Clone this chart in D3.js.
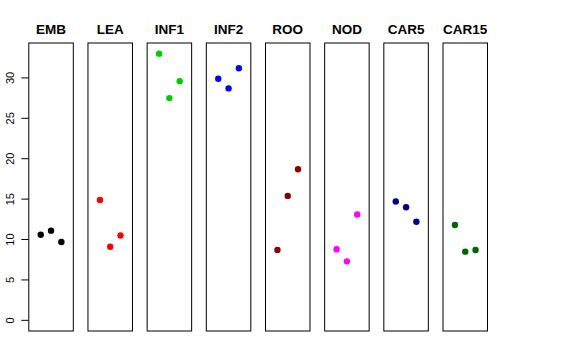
<!DOCTYPE html>
<html>
<head>
<meta charset="utf-8">
<script src="https://cdn.jsdelivr.net/npm/d3@7"></script>
<style>
  body { margin: 0; background: #fff; }
  text { font-family: "Liberation Sans", Arial, sans-serif; }
</style>
</head>
<body>
<svg id="chart"></svg>
<script>
// 组织类别
const tissues = ["EMB", "LEA", "INF1", "INF2", "ROO", "NOD", "CAR5", "CAR15"];
// 每个类别的颜色
const colors = ["#000000", "#ff0000", "#00cd00", "#0000ff", "#8b0000", "#ff00ff", "#00008b", "#006400"];
// 重复样本的位置
const reps = [1, 2, 3];
// 每个类别的三个数值
const values = [
  [10.6, 11.1, 9.7],
  [14.9, 9.1, 10.5],
  [33.0, 27.5, 29.6],
  [29.9, 28.7, 31.2],
  [8.7, 15.4, 18.7],
  [8.8, 7.3, 13.1],
  [14.7, 14.0, 12.2],
  [11.8, 8.5, 8.7]
];
// y 轴刻度
const yTicks = [0, 5, 10, 15, 20, 25, 30];

const svg = d3.select("#chart")
  .attr("width", 576)
  .attr("height", 360);

// 面板位置
const panelX = d3.scaleLinear().domain([0, 7]).range([28.8, 443]);
const panelW = 44.5;
const plotTop = 43, plotBottom = 331;

// y 比例尺（R 默认扩展 4%）
const y = d3.scaleLinear().domain([-1.32, 34.32]).range([plotBottom, plotTop]);

tissues.forEach((name, i) => {
  const left = panelX(i);
  const x = d3.scaleLinear().domain([-0.16, 4.16]).range([left, left + panelW]);
  const g = svg.append("g");

  // 面板边框
  g.append("rect")
    .attr("x", left)
    .attr("y", plotTop)
    .attr("width", panelW)
    .attr("height", plotBottom - plotTop)
    .attr("fill", "none")
    .attr("stroke", "#000")
    .attr("stroke-width", 1);

  // 标题
  g.append("text")
    .attr("x", left + panelW / 2)
    .attr("y", 34)
    .attr("text-anchor", "middle")
    .attr("font-weight", "bold")
    .attr("font-size", "13.5px")
    .text(name);

  // 数据点
  g.selectAll("circle")
    .data(values[i])
    .enter()
    .append("circle")
    .attr("cx", (d, j) => x(reps[j]))
    .attr("cy", d => y(d))
    .attr("r", 3.2)
    .attr("fill", colors[i]);

  // 只有第一个面板有 y 轴
  if (i === 0) {
    const axis = g.append("g")
      .attr("transform", `translate(${left},0)`)
      .call(d3.axisLeft(y).tickValues(yTicks).tickSize(7.5).tickPadding(5));
    axis.select(".domain").remove();
    axis.selectAll(".tick").attr("transform", null);
    axis.selectAll(".tick line")
      .attr("y1", d => y(d))
      .attr("y2", d => y(d))
      .attr("x2", -7.5)
      .attr("stroke", "#000");
    axis.selectAll(".tick text")
      .attr("font-size", "11px")
      .attr("font-family", "Liberation Sans, Arial, sans-serif")
      .attr("fill", "#000")
      .attr("x", 0)
      .attr("y", 0)
      .attr("dy", null)
      .attr("text-anchor", "middle")
      .attr("transform", d => `translate(-15,${y(d)}) rotate(-90)`);
  }
});
</script>
</body>
</html>
